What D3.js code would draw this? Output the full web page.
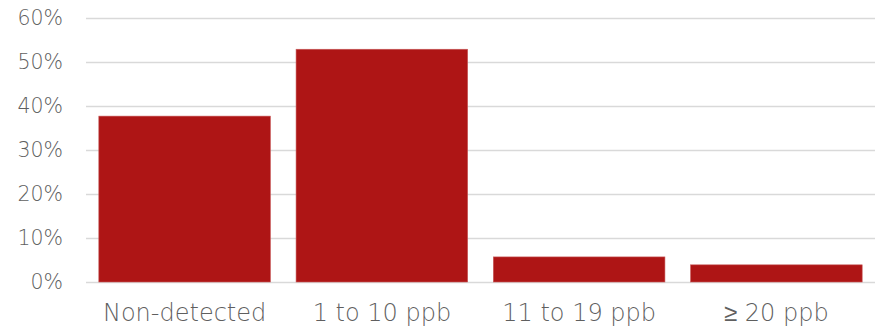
<!DOCTYPE html>
<html>
<head>
<meta charset="utf-8">
<script src="https://cdn.jsdelivr.net/npm/d3@7"></script>
<style>
  html, body { margin: 0; padding: 0; background: #ffffff; }
  svg { display: block; }
</style>
</head>
<body>
<svg id="chart" width="877" height="327"></svg>
<script>
const categories = ["Non-detected", "1 to 10 ppb", "11 to 19 ppb", "\u2265 20 ppb"];
const shares = [0.377, 0.529, 0.057, 0.039];
const yTicks = [0, 0.1, 0.2, 0.3, 0.4, 0.5, 0.6];

const W = 877, H = 327;
const margin = { top: 18, right: 2, bottom: 45, left: 86 };
const svg = d3.select("#chart");

const x = d3.scaleBand()
  .domain(categories)
  .range([margin.left, W - margin.right])
  .paddingInner(0.13)
  .paddingOuter(0.065);

const y = d3.scaleLinear()
  .domain([0, 0.6])
  .range([H - margin.bottom, margin.top]);

const font = "'DejaVu Sans', sans-serif";
const textColor = "#5f5f5f";

// gridlines
const yAxis = d3.axisLeft(y)
  .tickValues(yTicks)
  .tickSize(-(W - margin.left - margin.right))
  .tickFormat(d3.format(".0%"))
  .tickPadding(23);

const gy = svg.append("g")
  .attr("transform", `translate(${margin.left},0)`)
  .call(yAxis);
gy.select(".domain").remove();
gy.selectAll(".tick line")
  .attr("stroke", "#d9d9d9")
  .attr("stroke-width", 1.3);
gy.selectAll(".tick text")
  .attr("fill", textColor)
  .attr("font-family", font)
  .attr("font-weight", 200)
  .attr("font-size", 20.5);

// bars
svg.append("g")
  .selectAll("rect")
  .data(categories)
  .join("rect")
  .attr("x", d => x(d))
  .attr("width", x.bandwidth())
  .attr("y", (d, i) => y(shares[i]))
  .attr("height", (d, i) => y(0) - y(shares[i]))
  .attr("fill", "#ae1515")
  .attr("stroke", "#c85a5a")
  .attr("stroke-width", 0.6);

// x axis labels
const xAxis = d3.axisBottom(x).tickSize(0).tickPadding(22);
const gx = svg.append("g")
  .attr("transform", `translate(0,${H - margin.bottom})`)
  .call(xAxis);
gx.select(".domain").remove();
gx.selectAll(".tick text")
  .attr("fill", textColor)
  .attr("font-family", font)
  .attr("font-weight", 200)
  .attr("font-size", 24);
</script>
</body>
</html>
